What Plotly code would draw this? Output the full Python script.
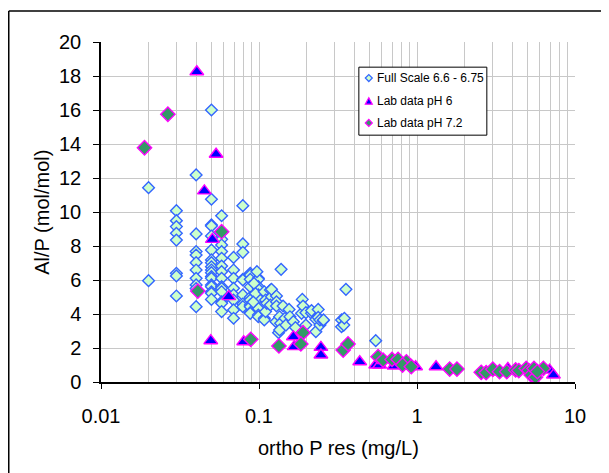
import plotly.graph_objects as go

# ---------------------------------------------------------------------------
# data
# Full Scale 6.6 - 6.75
full_x = [
    0.02, 0.02,
    0.03, 0.03, 0.03, 0.03, 0.03, 0.03, 0.03, 0.03,
    0.04, 0.04, 0.04, 0.04, 0.04, 0.04, 0.04, 0.04, 0.04, 0.04,
    0.05, 0.05, 0.05, 0.05, 0.05, 0.05, 0.05, 0.05, 0.05, 0.05,
    0.05, 0.05, 0.05, 0.05, 0.05, 0.05, 0.05, 0.05,
    0.058, 0.058, 0.058, 0.058, 0.058, 0.058, 0.058, 0.058, 0.058, 0.058,
    0.058, 0.058, 0.058, 0.058, 0.058,
    0.069, 0.069, 0.069, 0.069, 0.069, 0.069, 0.069, 0.069,
    0.079, 0.079, 0.079, 0.079, 0.079, 0.079, 0.079, 0.079,
    0.088, 0.088, 0.088, 0.088, 0.088, 0.088, 0.088, 0.088, 0.088, 0.088,
    0.099, 0.099, 0.099, 0.099, 0.099, 0.099, 0.099, 0.099, 0.099,
    0.097, 0.093, 0.095, 0.092,
    0.108, 0.108, 0.108, 0.11, 0.11, 0.112,
    0.118, 0.12, 0.118, 0.12,
    0.129, 0.129, 0.129, 0.128, 0.133,
    0.138, 0.135, 0.137, 0.135, 0.142,
    0.146, 0.148, 0.155, 0.157, 0.165, 0.17,
    0.186, 0.188, 0.19, 0.198, 0.198,
    0.215, 0.215, 0.229, 0.229, 0.237, 0.237, 0.243, 0.243, 0.255, 0.256,
    0.333, 0.333, 0.344, 0.347, 0.355,
    0.548,
]
full_y = [
    11.43, 5.96,
    10.08, 9.49, 9.14, 8.75, 8.35, 6.39, 6.24, 5.06,
    12.18, 8.71, 7.67, 7.47, 7.02, 6.59, 6.1, 5.71, 5.5, 4.43,
    16.0, 10.75, 9.24, 9.18, 8.59, 7.76, 7.18, 7.02, 6.78, 6.59,
    6.43, 6.2, 6.1, 5.71, 5.61, 5.31, 5.22, 4.86,
    9.78, 8.78, 8.39, 8.06, 7.67, 7.28, 6.82, 6.49, 6.1, 5.61,
    5.51, 5.31, 4.72, 4.63, 4.14,
    7.33, 6.59, 6.1, 5.51, 5.12, 4.82, 4.24, 3.75,
    10.37, 8.12, 7.63, 6.04, 6.0, 5.12, 4.59, 4.43,
    6.39, 6.29, 6.04, 5.61, 4.98, 4.82, 4.53, 4.43, 4.08, 4.04,
    6.1, 6.04, 5.61, 5.47, 5.12, 4.92, 4.33, 3.94, 3.84,
    6.49, 5.8, 5.2, 4.7,
    5.31, 3.75, 3.65, 4.14, 4.82, 4.63,
    5.41, 5.02, 4.53, 5.45,
    5.06, 4.72, 4.47, 3.55, 2.9,
    6.63, 3.84, 3.45, 3.06, 4.47,
    3.75, 3.35, 4.27, 3.84, 3.55, 3.2,
    4.04, 4.86, 4.47, 4.08, 3.35,
    4.04, 4.2, 3.69, 2.96, 4.27, 3.8, 3.35, 3.65, 3.61, 3.65,
    3.65, 3.25, 3.35, 3.75, 5.45,
    2.43,
]

# Lab data pH 6
ph6_x = [0.0404, 0.0535, 0.0451, 0.0507, 0.0643, 0.0495, 0.080, 0.165, 0.167,
         0.2465, 0.2465, 0.434, 0.548, 0.58, 0.716, 0.98, 1.32, 2.88, 3.76,
         6.9, 7.3]
ph6_y = [18.25, 13.4, 11.24, 8.39, 5.02, 2.43, 2.37, 2.66, 2.08,
         2.04, 1.59, 1.19, 1.0, 1.0, 0.94, 0.9, 0.9, 0.6, 0.8,
         0.7, 0.41]

# Lab data pH 7.2
ph72_x = [0.01885, 0.0265, 0.058, 0.041, 0.0887, 0.1337, 0.19, 0.184, 0.341,
          0.366, 0.567, 0.61, 0.695, 0.759, 0.857, 0.81, 0.92, 1.61, 1.79,
          2.55, 2.74, 3.02, 3.33, 3.70, 4.21, 4.41, 4.91, 5.10, 5.28, 5.62,
          5.5, 6.31, 5.78]
ph72_y = [13.78, 15.75, 8.84, 5.35, 2.51, 2.12, 2.9, 2.24, 1.88,
          2.24, 1.49, 1.29, 1.33, 1.33, 1.19, 1.0, 0.9, 0.76, 0.76,
          0.57, 0.55, 0.75, 0.61, 0.61, 0.71, 0.67, 0.8, 0.67, 0.41, 0.28,
          0.8, 0.8, 0.61]

series_names = ["Full Scale 6.6 - 6.75", "Lab data pH 6", "Lab data pH 7.2"]
x_ticks = [0.01, 0.1, 1, 10]
x_ticktext = ["0.01", "0.1", "1", "10"]
x_title = "ortho P res (mg/L)"
y_title = "Al/P (mol/mol)"

# ---------------------------------------------------------------------------

FONT = "Liberation Sans, Arial, sans-serif"
GRID = "#c8c8c8"

# symbol, size, fill, edge -- per series
styles = [
    ("diamond", 9, "#ccffcc", "#3366ff"),
    ("triangle-up", 12, "#0000ff", "#ff00ff"),
    ("diamond", 11, "#339966", "#ff00ff"),
]
series_xy = [(full_x, full_y), (ph6_x, ph6_y), (ph72_x, ph72_y)]

fig = go.Figure()
for name, (xs, ys), (sym, size, fill, edge) in zip(series_names, series_xy, styles):
    fig.add_trace(go.Scatter(
        x=xs, y=ys, mode="markers", name=name, showlegend=False,
        marker=dict(symbol=sym, size=size, color=fill,
                    line=dict(color=edge, width=1.4)),
    ))

# minor gridlines at 2..9 of every decade
minor_vals = [m * 10 ** e for e in (-2, -1, 0) for m in range(2, 10)]

fig.update_xaxes(
    type="log", range=[-2, 1],
    tickvals=x_ticks, ticktext=x_ticktext,
    ticks="outside", ticklen=5, tickcolor="black", ticklabelstandoff=10,
    showline=True, linecolor="black", linewidth=1.5,
    showgrid=True, gridcolor=GRID, gridwidth=1.3,
    minor=dict(tickvals=minor_vals, showgrid=True, gridcolor=GRID,
               gridwidth=1.3, ticks=""),
    zeroline=False,
    tickfont=dict(size=20, color="black"),
)
fig.update_yaxes(
    range=[0, 20], dtick=2,
    ticks="outside", ticklen=6, tickcolor="black", ticklabelstandoff=8,
    showline=True, linecolor="black", linewidth=1.5,
    showgrid=True, gridcolor=GRID, gridwidth=1.3,
    zeroline=False,
    tickfont=dict(size=20, color="black"),
)

# axis titles
fig.add_annotation(text=x_title, xref="paper", yref="paper", x=0.5, y=-0.194,
                   showarrow=False, font=dict(size=20, color="black"),
                   xanchor="center", yanchor="middle")
fig.add_annotation(text=y_title, xref="paper", yref="paper", x=-0.125, y=0.5,
                   showarrow=False, textangle=-90,
                   font=dict(size=20, color="black"),
                   xanchor="center", yanchor="middle")

# legend drawn by hand: box, small symbols and labels
fig.add_shape(type="rect", xref="paper", yref="paper",
              x0=0.544, x1=0.814, y0=0.726, y1=0.926,
              line=dict(color="black", width=1), fillcolor="white")
legend_paths = {
    "diamond": "M-3.5,0 L0,3.5 L3.5,0 L0,-3.5 Z",
    "triangle-up": "M-3.5,-3 L3.5,-3 L0,3.5 Z",
}
legend_y = [0.894, 0.826, 0.762]
for name, ly, (sym, size, fill, edge) in zip(series_names, legend_y, styles):
    fig.add_shape(type="path", xref="paper", yref="paper",
                  xsizemode="pixel", ysizemode="pixel",
                  xanchor=0.565, yanchor=ly, path=legend_paths[sym],
                  fillcolor=fill, line=dict(color=edge, width=1.2))
    fig.add_annotation(text=name, xref="paper", yref="paper", x=0.578, y=ly,
                       showarrow=False, xanchor="left", yanchor="middle",
                       font=dict(size=12, color="black"))

# chart-area frame: only its left and top edges fall inside the picture
fig.add_shape(type="line", xref="paper", yref="paper",
              x0=-0.1946, x1=-0.1946, y0=-0.27, y1=1.091,
              line=dict(color="black", width=1.5), layer="below")
fig.add_shape(type="line", xref="paper", yref="paper",
              x0=-0.1946, x1=1.075, y0=1.091, y1=1.091,
              line=dict(color="black", width=1.5), layer="below")

# page puts the figure 8 px in from the corner, so the figure is 8 px
# smaller than the window to avoid overflow
fig.update_layout(
    width=601, height=465,
    margin=dict(l=93, r=34, t=34, b=91),
    paper_bgcolor="white", plot_bgcolor="white",
    font=dict(family=FONT, color="black"),
    showlegend=False,
)

fig.write_html("out.html")
